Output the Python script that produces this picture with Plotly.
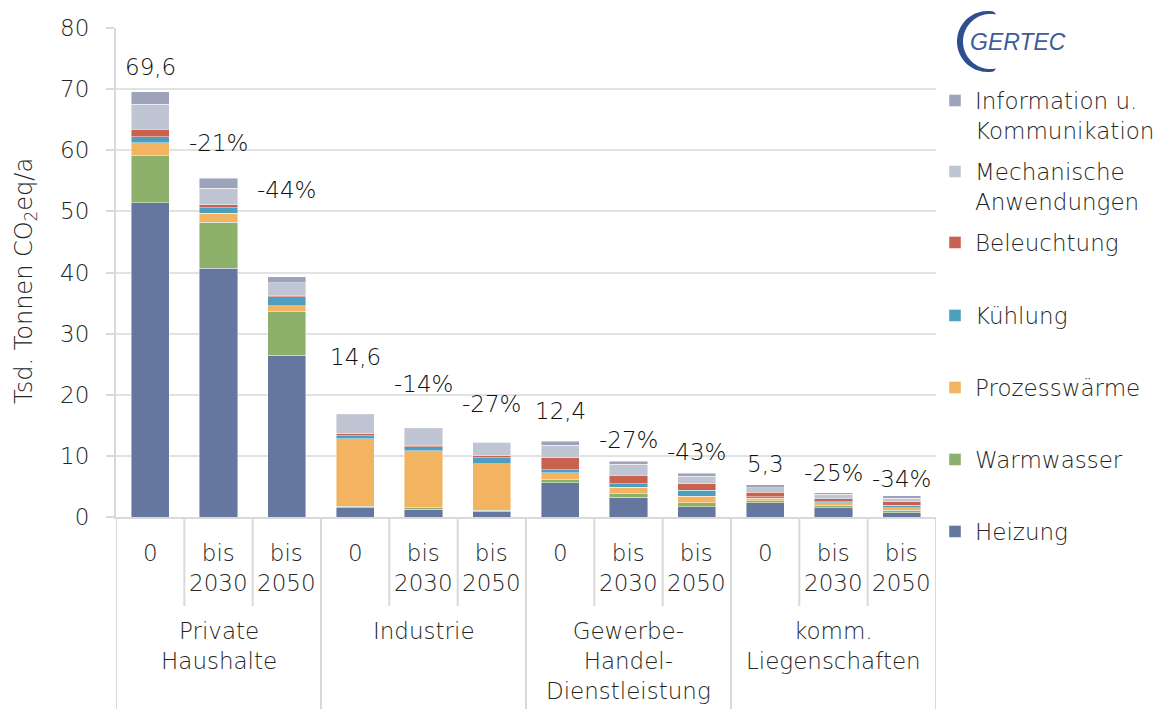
import plotly.graph_objects as go
import numpy as np

# ---------------- data ----------------
groups = ["Private<br>Haushalte", "Industrie", "Gewerbe-<br>Handel-<br>Dienstleistung", "komm.<br>Liegenschaften"]
subcats = ["0", "bis<br>2030", "bis<br>2050"]

series_names = ["Heizung", "Warmwasser", "Prozesswärme", "Kühlung", "Beleuchtung",
                "Mechanische<br>Anwendungen", "Information u.<br>Kommunikation"]

heizung       = [51.4, 40.7, 26.5, 1.5, 1.25, 0.9, 5.6, 3.2, 1.7, 2.35, 1.5, 0.7]
warmwasser    = [7.7, 7.5, 7.1, 0.3, 0.25, 0.2, 0.5, 0.6, 0.6, 0.35, 0.4, 0.4]
prozesswaerme = [2.1, 1.5, 1.0, 11.0, 9.3, 7.6, 1.1, 1.1, 1.1, 0.35, 0.4, 0.4]
kuehlung      = [1.0, 0.9, 1.4, 0.5, 0.7, 1.0, 0.5, 0.5, 1.0, 0.25, 0.2, 0.4]
beleuchtung   = [1.2, 0.5, 0.3, 0.3, 0.2, 0.3, 2.0, 1.4, 1.0, 0.75, 0.5, 0.6]
mechanisch    = [4.1, 2.7, 2.0, 3.1, 2.75, 2.2, 2.0, 1.8, 1.3, 0.75, 0.7, 0.55]
information   = [2.1, 1.6, 1.0, 0.2, 0.15, 0.1, 0.7, 0.5, 0.45, 0.5, 0.3, 0.4]

bar_labels = ["69,6", "-21%", "-44%", "14,6", "-14%", "-27%",
              "12,4", "-27%", "-43%", "5,3", "-25%", "-34%"]
label_heights = [73.6, 61.2, 53.5, 26.2, 21.8, 18.5, 17.4, 12.6, 10.6, 8.7, 7.2, 6.2]

y_ticks = [0, 10, 20, 30, 40, 50, 60, 70, 80]

# ---------------- styles ----------------
colors = ["#65779f", "#8db06a", "#f3b462", "#4d9fbf", "#c9614f", "#bfc5d2", "#9da3ba"]
FONT = "DejaVu Sans"
WEIGHT = 200
TXT = "#262626"
GRID = "#e2e2e2"
FS = 23

W, H = 1162, 709
L, R, T, B = 116, 936, 28, 517  # plot area in pixels


def px(xp):
    return (xp - L) / (R - L)


def py(yp):
    return (B - yp) / (B - T)


def tfont(size=FS, color=TXT):
    return dict(family=FONT, size=size, color=color, weight=WEIGHT)


n = len(groups) * len(subcats)
xs = list(range(n))
series_values = [heizung, warmwasser, prozesswaerme, kuehlung, beleuchtung, mechanisch, information]

fig = go.Figure()

# legend first-line centre positions (pixels)
legend_centres = [532, 460, 388, 316, 243, 172, 101]

for k, (name, vals, col) in enumerate(zip(series_names, series_values, colors)):
    lg = "legend" if k == 0 else f"legend{k + 1}"
    fig.add_trace(go.Bar(
        x=xs, y=vals, name=name,
        marker=dict(color=col, line=dict(color="rgba(255,255,255,0.55)", width=0.8)),
        width=0.56, legend=lg, hoverinfo="name+y",
    ))

layout_legends = {}
for k in range(len(series_names)):
    key = "legend" if k == 0 else f"legend{k + 1}"
    layout_legends[key] = dict(
        x=px(935), xanchor="left",
        y=py(legend_centres[k] - 22), yanchor="top",
        font=tfont(), bgcolor="rgba(0,0,0,0)", borderwidth=0, valign="top",
        itemclick=False, itemdoubleclick=False,
    )

annotations = []
# data labels
for i, (t, yv) in enumerate(zip(bar_labels, label_heights)):
    annotations.append(dict(x=i, y=yv, xref="x", yref="y", text=t, showarrow=False,
                            font=tfont(color="#111111"), xanchor="center", yanchor="middle"))
# category labels
for g in range(len(groups)):
    for s, sub in enumerate(subcats):
        annotations.append(dict(x=g * 3 + s, y=py(538), xref="x", yref="paper", text=sub,
                                showarrow=False, font=tfont(),
                                xanchor="center", yanchor="top", align="center"))
    annotations.append(dict(x=g * 3 + 1, y=py(616), xref="x", yref="paper", text=groups[g],
                            showarrow=False, font=tfont(),
                            xanchor="center", yanchor="top", align="center"))
# y axis title
annotations.append(dict(x=px(25), y=py(281), xref="paper", yref="paper",
                        text="Tsd. Tonnen CO<sub>2</sub>eq/a", textangle=-90, showarrow=False,
                        font=tfont(size=24), xanchor="center", yanchor="middle"))
# logo text
annotations.append(dict(x=px(968), y=py(42), xref="paper", yref="paper", text="GERTEC",
                        showarrow=False, font=dict(family="Liberation Sans", size=23, color="#3d5c9c",
                                                   style="italic"),
                        xanchor="left", yanchor="middle"))

shapes = []
LINE = "#d9d9d9"
# subcategory dividers
for g in range(len(groups)):
    for s in range(1, 3):
        xv = g * 3 + s - 0.5
        shapes.append(dict(type="line", xref="x", yref="paper", x0=xv, x1=xv, y0=0, y1=py(606),
                           line=dict(color=LINE, width=2)))
# group dividers
for g in range(len(groups) + 1):
    xv = g * 3 - 0.5
    shapes.append(dict(type="line", xref="x", yref="paper", x0=xv, x1=xv, y0=0, y1=py(709),
                       line=dict(color=LINE, width=2)))

# logo arc (crescent) in pixel space
cx_o, cy_o, r_o = 987.5, 41.5, 30.5
cx_i, r_i = 990.5, 27.5
th = np.radians(np.linspace(78, 282, 60))
outer = [(cx_o + r_o * np.cos(t), cy_o - r_o * np.sin(t)) for t in th]
inner = [(cx_i + r_i * np.cos(t), cy_o - r_i * np.sin(t)) for t in th[::-1]]
pts = outer + inner
path = "M " + " L ".join(f"{px(a):.5f},{py(b):.5f}" for a, b in pts) + " Z"
shapes.append(dict(type="path", xref="paper", yref="paper", path=path,
                   fillcolor="#2d4f8e", line=dict(width=0)))

fig.update_layout(
    width=W, height=H,
    margin=dict(l=L, r=W - R, t=T, b=H - B, pad=0, autoexpand=False),
    barmode="stack", bargap=0.44,
    plot_bgcolor="white", paper_bgcolor="white",
    font=tfont(),
    xaxis=dict(range=[-0.5, n - 0.5], showticklabels=False, showgrid=False, zeroline=False,
               showline=True, linecolor=LINE, linewidth=2, ticks="", fixedrange=True),
    yaxis=dict(range=[0, 80], tickvals=y_ticks, showgrid=True, gridcolor=GRID, gridwidth=1.5,
               zeroline=False, showline=True, linecolor=LINE, linewidth=2, ticks="outside",
               ticklen=8, tickcolor=LINE, tickwidth=2, ticklabelstandoff=12,
               tickfont=tfont(), fixedrange=True),
    annotations=annotations, shapes=shapes,
    showlegend=True,
    **layout_legends,
)

fig.write_html("out.html", config={"displayModeBar": False},
               post_script="document.body.style.margin='0';")
